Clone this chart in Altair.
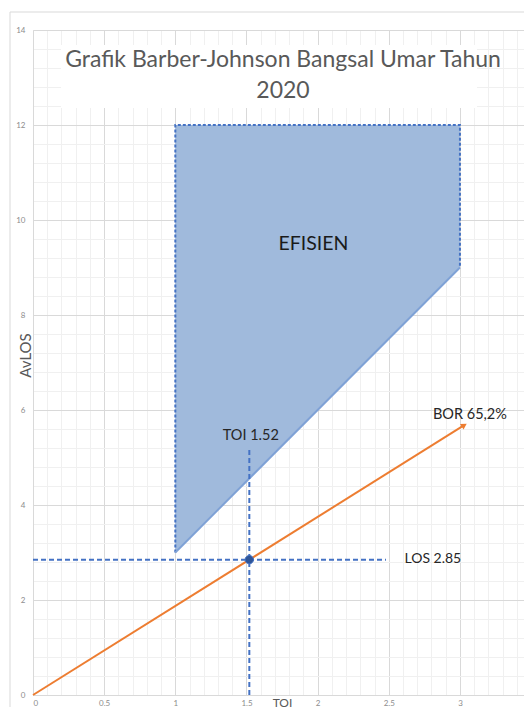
import altair as alt
import pandas as pd

# ---- data ----
poly_toi = [1, 1, 3, 3]
poly_los = [3, 12, 12, 9]
poly_order = [0, 1, 2, 3]
area_toi = [1, 3]
area_low = [3, 9]
area_high = [12, 12]
bor_toi = [0, 3.03]
bor_los = [0, 5.68]
toi_value = 1.52
los_value = 2.85
toi_guide_top = 5.2
los_guide_end = 2.48
center_labels = ["EFISIEN", "TOI 1.52", "BOR 65,2%"]
center_labels_toi = [1.97, 1.53, 3.07]
center_labels_los = [9.5, 5.45, 5.9]
los_label = ["LOS 2.85"]
los_label_toi = [2.61]
los_label_los = [2.86]
title_lines = ["Grafik Barber-Johnson Bangsal Umar Tahun", "2020"]
x_ticks = [round(i * 0.1, 1) for i in range(35)]
y_ticks = [round(i * 0.4, 1) for i in range(36)]

FONT = "Lato"
BLUE = "#4472C4"
ORANGE = "#ED7D31"

xs = alt.Scale(domain=[0, 3.45], nice=False, zero=False)
ys = alt.Scale(domain=[0, 14], nice=False, zero=False)

x_major = "abs(datum.value*2 - round(datum.value*2)) < 0.001"
y_major = "abs(datum.value/2 - round(datum.value/2)) < 0.001"

x_axis = alt.Axis(
    values=x_ticks, title="TOI", grid=True, ticks=False,
    gridColor={"condition": {"test": x_major, "value": "#d9d9d9"}, "value": "#f0f0f0"},
    labelExpr=f"{x_major} ? format(datum.value, '~g') : ''",
    labelOverlap=False, labelFontSize=8, labelColor="#8c8c8c", labelFont=FONT,
    labelPadding=4, labelBaseline="top", domainColor="#d9d9d9",
    titleFont=FONT, titleFontSize=12, titleFontWeight="normal", titleColor="#595959",
    titleX=249, titleY=11.5, titleBaseline="alphabetic", titleAlign="center",
)
y_axis = alt.Axis(
    values=y_ticks, title="AvLOS", grid=True, ticks=False,
    gridColor={"condition": {"test": y_major, "value": "#d9d9d9"}, "value": "#f0f0f0"},
    labelExpr=f"{y_major} ? format(datum.value, '~g') : ''",
    labelOverlap=False, labelFontSize=8, labelColor="#8c8c8c", labelFont=FONT,
    labelPadding=8, domainColor="#d9d9d9",
    titleFont=FONT, titleFontSize=15, titleFontWeight="normal", titleColor="#595959",
    titleX=-8, titleY=325, titleAngle=-90, titleAlign="center", titleBaseline="middle",
)


def X(field):
    return alt.X(field, scale=xs, axis=x_axis)


def Y(field):
    return alt.Y(field, scale=ys, axis=y_axis)


one = pd.DataFrame({"a": [0]})

frame = alt.Chart(one).mark_rect(fill="white", fillOpacity=0, stroke="#d9d9d9", strokeWidth=1).encode(
    x=alt.value(-23), x2=alt.value(1000), y=alt.value(-18), y2=alt.value(1000)
)

area_df = pd.DataFrame({"toi": area_toi, "low": area_low, "high": area_high})
area = alt.Chart(area_df).mark_area(color="#A0BADC", opacity=1).encode(
    x=X("toi:Q"), y=Y("high:Q"), y2="low:Q",
)

title_box = alt.Chart(one).mark_rect(fill="white").encode(
    x=alt.value(28), x2=alt.value(444), y=alt.value(15), y2=alt.value(78)
)
title1 = alt.Chart(one).mark_text(font=FONT, fontSize=23, color="#595959", align="center", baseline="alphabetic").encode(
    x=alt.value(250), y=alt.value(37), text=alt.value(title_lines[0])
)
title2 = alt.Chart(one).mark_text(font=FONT, fontSize=23, color="#595959", align="center", baseline="alphabetic").encode(
    x=alt.value(250), y=alt.value(68), text=alt.value(title_lines[1])
)

poly_df = pd.DataFrame({"toi": poly_toi, "los": poly_los, "o": poly_order})
poly_border = alt.Chart(poly_df).mark_line(color=BLUE, strokeWidth=2, strokeDash=[3, 2]).encode(
    x=X("toi:Q"), y=Y("los:Q"), order="o:Q",
)
low_df = pd.DataFrame({"toi": area_toi, "los": area_low})
low_edge = alt.Chart(low_df).mark_line(color="#7FA2D6", strokeWidth=2).encode(
    x=X("toi:Q"), y=Y("los:Q"),
)

bor_df = pd.DataFrame({"toi": bor_toi, "los": bor_los})
bor_line = alt.Chart(bor_df).mark_line(color=ORANGE, strokeWidth=2).encode(
    x=X("toi:Q"), y=Y("los:Q"),
)
arrow = alt.Chart(pd.DataFrame({"toi": [bor_toi[-1]], "los": [bor_los[-1]]})).mark_point(
    shape="triangle-up", angle=58, filled=True, size=45, color=ORANGE, opacity=1
).encode(x=X("toi:Q"), y=Y("los:Q"))

toi_df = pd.DataFrame({"toi": [toi_value, toi_value], "los": [0, toi_guide_top]})
toi_guide = alt.Chart(toi_df).mark_line(color=BLUE, strokeWidth=2, strokeDash=[5, 3]).encode(
    x=X("toi:Q"), y=Y("los:Q"),
)
los_df = pd.DataFrame({"toi": [0, los_guide_end], "los": [los_value, los_value]})
los_guide = alt.Chart(los_df).mark_line(color=BLUE, strokeWidth=2, strokeDash=[5, 3]).encode(
    x=X("toi:Q"), y=Y("los:Q"),
)

dot = alt.Chart(pd.DataFrame({"toi": [toi_value], "los": [los_value]})).mark_point(
    shape="circle", filled=True, size=70, color="#2F5597", stroke=BLUE, strokeWidth=1, opacity=1
).encode(x=X("toi:Q"), y=Y("los:Q"))

efis = alt.Chart(pd.DataFrame({"t": center_labels[:1], "toi": center_labels_toi[:1], "los": center_labels_los[:1]})).mark_text(
    font=FONT, fontSize=19.5, color="#1a1a1a", align="center", baseline="middle"
).encode(x=X("toi:Q"), y=Y("los:Q"), text="t:N")
small = alt.Chart(pd.DataFrame({"t": center_labels[1:], "toi": center_labels_toi[1:], "los": center_labels_los[1:]})).mark_text(
    font=FONT, fontSize=14.5, color="#262626", align="center", baseline="middle"
).encode(x=X("toi:Q"), y=Y("los:Q"), text="t:N")
los_text = alt.Chart(pd.DataFrame({"t": los_label, "toi": los_label_toi, "los": los_label_los})).mark_text(
    font=FONT, fontSize=14, color="#262626", align="left", baseline="middle"
).encode(x=X("toi:Q"), y=Y("los:Q"), text="t:N")

chart = alt.layer(
    area, frame, title_box, title1, title2, poly_border, low_edge, bor_line, arrow,
    toi_guide, los_guide, dot, efis, small, los_text,
).properties(
    width=491, height=665,
    autosize=alt.AutoSizeParams(type="none"),
    padding={"left": 25, "top": 22, "right": 0, "bottom": 12},
    background="white",
).configure_view(stroke="transparent")

chart.save("out.html", embed_options={"renderer": "svg", "actions": False})
